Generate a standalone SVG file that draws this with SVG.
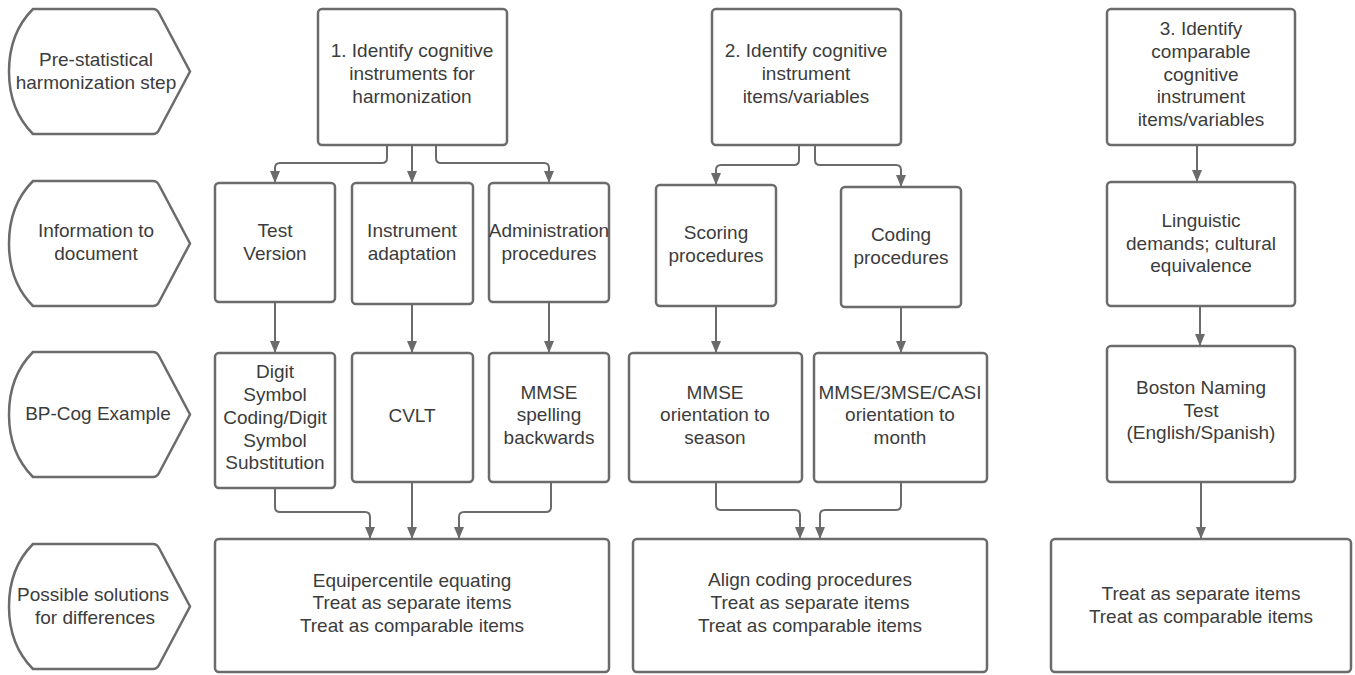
<svg xmlns="http://www.w3.org/2000/svg" width="1355" height="675" viewBox="0 0 1355 675">
<defs>
<style>
.box{fill:#ffffff;stroke:#6b6b6b;stroke-width:2.5}
.lbl{fill:#ffffff;stroke:#6b6b6b;stroke-width:2.5}
.t{font-family:"Liberation Sans",Arial,sans-serif;font-size:19px;fill:#3c3c3c;text-anchor:middle}
.c{fill:none;stroke:#6b6b6b;stroke-width:2}
</style>
<marker id="ah" viewBox="0 0 12 10" refX="12" refY="5" markerWidth="12" markerHeight="10" markerUnits="userSpaceOnUse" orient="auto">
<path d="M0,0 L12,5 L0,10 Z" fill="#6b6b6b"/>
</marker>
<path id="pent" d="M24 0 L144 0 Q148 0 150 4 L181 62.5 L150 121 Q148 125 144 125 L24 125 C4 105 0 80 0 62.5 C0 45 4 20 24 0 Z"/>
</defs>
<rect width="1355" height="675" fill="#ffffff"/>

<g id="lane1">
<use href="#pent" x="9" y="9" class="lbl"/>
<text class="t" x="96" y="66">Pre-statistical</text>
<text class="t" x="96" y="89">harmonization step</text>
</g>
<g id="lane2">
<use href="#pent" x="9" y="181" class="lbl"/>
<text class="t" x="96" y="237">Information to</text>
<text class="t" x="96" y="260">document</text>
</g>
<g id="lane3">
<use href="#pent" x="9" y="352" class="lbl"/>
<text class="t" x="98" y="420">BP-Cog Example</text>
</g>
<g id="lane4">
<use href="#pent" x="9" y="544" class="lbl"/>
<text class="t" x="93" y="601">Possible solutions</text>
<text class="t" x="95" y="624">for differences</text>
</g>

<g id="connectors">
<path class="c" marker-end="url(#ah)" d="M387 145 V158 Q387 163 382 163 H280 Q275 163 275 168 V183"/>
<path class="c" marker-end="url(#ah)" d="M412 145 V183"/>
<path class="c" marker-end="url(#ah)" d="M436 145 V158 Q436 163 441 163 H544 Q549 163 549 168 V183"/>
<path class="c" marker-end="url(#ah)" d="M799 145 V160 Q799 165 794 165 H721 Q716 165 716 170 V185"/>
<path class="c" marker-end="url(#ah)" d="M815 145 V160 Q815 165 820 165 H896 Q901 165 901 170 V187"/>
<path class="c" marker-end="url(#ah)" d="M1197 145 V182"/>
<path class="c" marker-end="url(#ah)" d="M275 302 V353"/>
<path class="c" marker-end="url(#ah)" d="M412 304 V353"/>
<path class="c" marker-end="url(#ah)" d="M549 302 V353"/>
<path class="c" marker-end="url(#ah)" d="M716 306 V353"/>
<path class="c" marker-end="url(#ah)" d="M901 307 V353"/>
<path class="c" marker-end="url(#ah)" d="M1200 306 V346"/>
<path class="c" marker-end="url(#ah)" d="M275 488 V507 Q275 512 280 512 H365 Q370 512 370 517 V539"/>
<path class="c" marker-end="url(#ah)" d="M412 482 V539"/>
<path class="c" marker-end="url(#ah)" d="M551 482 V507 Q551 512 546 512 H464 Q459 512 459 517 V539"/>
<path class="c" marker-end="url(#ah)" d="M716 482 V505 Q716 510 721 510 H795 Q800 510 800 515 V539"/>
<path class="c" marker-end="url(#ah)" d="M901 482 V505 Q901 510 896 510 H825 Q820 510 820 515 V539"/>
<path class="c" marker-end="url(#ah)" d="M1201 482 V539"/>
</g>

<g id="step1">
<rect class="box" x="318" y="9" width="189" height="136" rx="4"/>
<text class="t" x="412" y="57">1. Identify cognitive</text>
<text class="t" x="412" y="80">instruments for</text>
<text class="t" x="412" y="103">harmonization</text>
</g>
<g id="step2">
<rect class="box" x="712" y="9" width="189" height="136" rx="4"/>
<text class="t" x="806" y="57">2. Identify cognitive</text>
<text class="t" x="806" y="80">instrument</text>
<text class="t" x="806" y="103">items/variables</text>
</g>
<g id="step3">
<rect class="box" x="1107" y="9" width="188" height="136" rx="4"/>
<text class="t" x="1201" y="35">3. Identify</text>
<text class="t" x="1201" y="58">comparable</text>
<text class="t" x="1201" y="81">cognitive</text>
<text class="t" x="1201" y="103">instrument</text>
<text class="t" x="1201" y="126">items/variables</text>
</g>

<g id="test-version">
<rect class="box" x="215" y="183" width="120" height="119" rx="4"/>
<text class="t" x="275" y="237">Test</text>
<text class="t" x="275" y="260">Version</text>
</g>
<g id="instrument-adaptation">
<rect class="box" x="352" y="183" width="121" height="121" rx="4"/>
<text class="t" x="412" y="237">Instrument</text>
<text class="t" x="412" y="260">adaptation</text>
</g>
<g id="administration-procedures">
<rect class="box" x="489" y="183" width="120" height="119" rx="4"/>
<text class="t" x="549" y="237">Administration</text>
<text class="t" x="549" y="260">procedures</text>
</g>
<g id="scoring-procedures">
<rect class="box" x="656" y="185" width="120" height="121" rx="4"/>
<text class="t" x="716" y="239">Scoring</text>
<text class="t" x="716" y="262">procedures</text>
</g>
<g id="coding-procedures">
<rect class="box" x="841" y="187" width="120" height="120" rx="4"/>
<text class="t" x="901" y="241">Coding</text>
<text class="t" x="901" y="264">procedures</text>
</g>
<g id="linguistic-demands">
<rect class="box" x="1107" y="182" width="188" height="124" rx="4"/>
<text class="t" x="1201" y="227">Linguistic</text>
<text class="t" x="1201" y="250">demands; cultural</text>
<text class="t" x="1201" y="272">equivalence</text>
</g>

<g id="digit-symbol">
<rect class="box" x="215" y="353" width="120" height="135" rx="4"/>
<text class="t" x="275" y="378">Digit</text>
<text class="t" x="275" y="401">Symbol</text>
<text class="t" x="275" y="424">Coding/Digit</text>
<text class="t" x="275" y="447">Symbol</text>
<text class="t" x="275" y="469">Substitution</text>
</g>
<g id="cvlt">
<rect class="box" x="352" y="353" width="121" height="129" rx="4"/>
<text class="t" x="412" y="422">CVLT</text>
</g>
<g id="mmse-spelling">
<rect class="box" x="489" y="353" width="120" height="129" rx="4"/>
<text class="t" x="549" y="399">MMSE</text>
<text class="t" x="549" y="421">spelling</text>
<text class="t" x="549" y="444">backwards</text>
</g>
<g id="mmse-season">
<rect class="box" x="629" y="353" width="173" height="129" rx="4"/>
<text class="t" x="715" y="399">MMSE</text>
<text class="t" x="715" y="421">orientation to</text>
<text class="t" x="715" y="444">season</text>
</g>
<g id="mmse-month">
<rect class="box" x="814" y="353" width="173" height="129" rx="4"/>
<text class="t" x="900" y="399" textLength="163" lengthAdjust="spacingAndGlyphs">MMSE/3MSE/CASI</text>
<text class="t" x="900" y="421">orientation to</text>
<text class="t" x="900" y="444">month</text>
</g>
<g id="boston-naming">
<rect class="box" x="1107" y="346" width="188" height="136" rx="4"/>
<text class="t" x="1201" y="394">Boston Naming</text>
<text class="t" x="1201" y="417">Test</text>
<text class="t" x="1201" y="439">(English/Spanish)</text>
</g>

<g id="solutions1">
<rect class="box" x="215" y="539" width="394" height="133" rx="4"/>
<text class="t" x="412" y="587">Equipercentile equating</text>
<text class="t" x="412" y="609">Treat as separate items</text>
<text class="t" x="412" y="632">Treat as comparable items</text>
</g>
<g id="solutions2">
<rect class="box" x="633" y="539" width="354" height="133" rx="4"/>
<text class="t" x="810" y="586">Align coding procedures</text>
<text class="t" x="810" y="609">Treat as separate items</text>
<text class="t" x="810" y="632">Treat as comparable items</text>
</g>
<g id="solutions3">
<rect class="box" x="1051" y="539" width="300" height="133" rx="4"/>
<text class="t" x="1201" y="600">Treat as separate items</text>
<text class="t" x="1201" y="623">Treat as comparable items</text>
</g>
</svg>
